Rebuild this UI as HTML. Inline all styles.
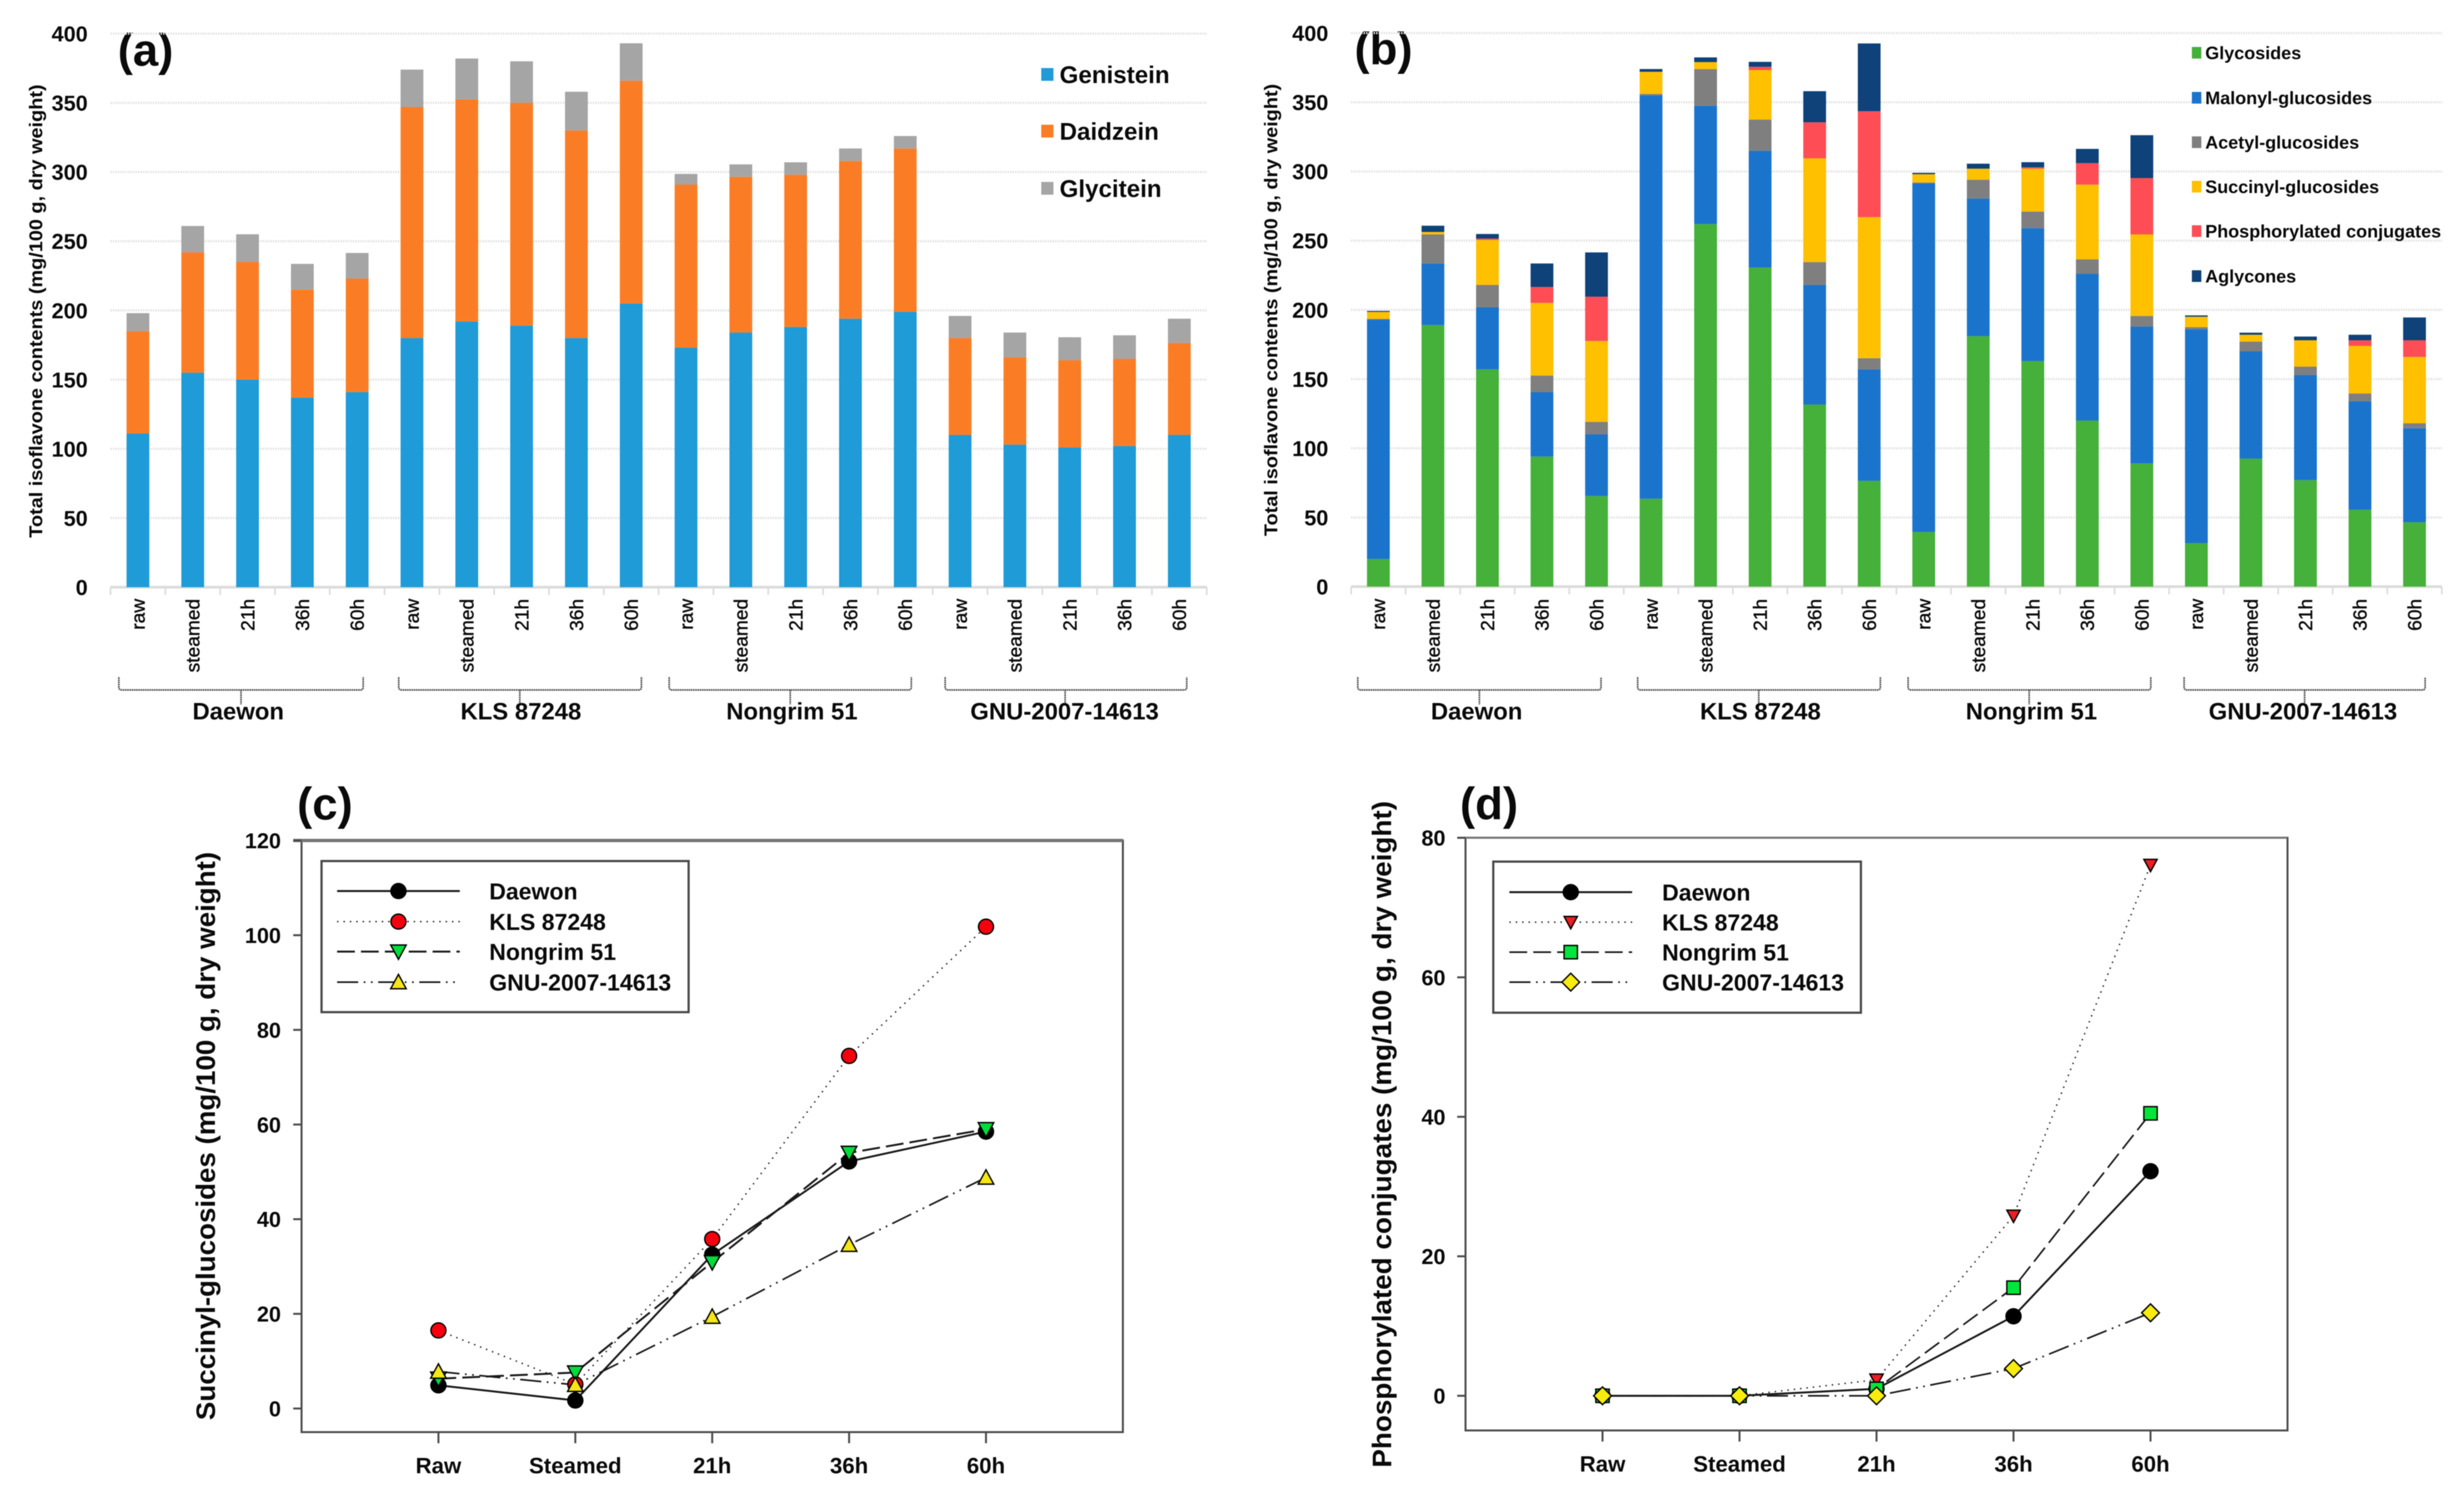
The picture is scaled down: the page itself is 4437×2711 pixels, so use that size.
<!DOCTYPE html>
<html lang="en">
<head>
<meta charset="utf-8">
<title>Isoflavone contents of soybean cultivars</title>
<style>
html,body{margin:0;padding:0;background:#fff;}
body{width:4437px;height:2711px;overflow:hidden;}
svg{display:block;font-family:"Liberation Sans",Arial,sans-serif;filter:blur(0.8px);}
text{fill:#0a0a0a;}
.b{font-weight:bold;}
</style>
</head>
<body>
<svg id="figure" xmlns="http://www.w3.org/2000/svg" width="4437" height="2711" viewBox="0 0 4437 2711">
  <rect x="0" y="0" width="4437" height="2711" fill="#fff"/>
  <g id="panel-a">
    <text class="b" x="212" y="118" font-size="82">(a)</text>
    <text class="b" font-size="33" text-anchor="middle" textLength="816" lengthAdjust="spacingAndGlyphs" transform="translate(76 560) rotate(-90)">Total isoflavone contents (mg/100 g, dry weight)</text>
  </g>
  <g id="panel-b">
    <text class="b" x="2439" y="116" font-size="82">(b)</text>
    <text class="b" font-size="33" text-anchor="middle" textLength="814" lengthAdjust="spacingAndGlyphs" transform="translate(2300 558) rotate(-90)">Total isoflavone contents (mg/100 g, dry weight)</text>
  </g>
  <g id="panel-c">
    <text class="b" x="535" y="1475" font-size="82">(c)</text>
    <text class="b" font-size="48" text-anchor="middle" textLength="1023" lengthAdjust="spacingAndGlyphs" transform="translate(387 2045) rotate(-90)">Succinyl-glucosides (mg/100 g, dry weight)</text>
  </g>
  <g id="panel-d">
    <text class="b" x="2629" y="1475" font-size="82">(d)</text>
    <text class="b" font-size="48" text-anchor="middle" textLength="1200" lengthAdjust="spacingAndGlyphs" transform="translate(2505 2042) rotate(-90)">Phosphorylated conjugates (mg/100 g, dry weight)</text>
  </g>
</svg>
<script>
// ---------- shared categories ----------
const barCategories = ['raw','steamed','21h','36h','60h','raw','steamed','21h','36h','60h','raw','steamed','21h','36h','60h','raw','steamed','21h','36h','60h'];
const cultivars = ['Daewon','KLS 87248','Nongrim 51','GNU-2007-14613'];
const barTicks = [0,50,100,150,200,250,300,350,400];
const lineCategories = ['Raw','Steamed','21h','36h','60h'];

// ---------- panel (a) values ----------
const aGenistein = [111,155,150,137,141,180,192,189,180,205,173,184,188,194,199,110,103,101,102,110];
const aDaidzein  = [74,87,85,78,82,167,160.5,161,150,161,118,112.5,110,114,118,70,63,63,63,66.5];
const aGlycitein = [13,19,20,18.6,18.5,27,29.5,30,28,27,7.6,9,9,9,9,16,18,16.6,17,17.5];

// ---------- panel (b) values ----------
const bGlycosides = [20,189,157,94,65.5,63.5,262,230.5,131.5,76.5,39.5,181,163,120,89,31.5,92.5,77,55.5,46.5];
const bMalonyl    = [173,44.5,45,46.5,44.5,291.5,85.5,84.5,86.5,80.5,252,99.5,96,106,99,154.5,77.5,76,78.5,68];
const bAcetyl     = [0.5,21,16,12,9,1,26.5,22.5,16.5,8,0.5,13.5,12,10.5,7.5,1.5,7,6,5.5,3.5];
const bSuccinyl   = [5,1.8,32.5,52.5,58.5,16,5,35.8,75,102,6,8,31,54,59,7.5,5,19,34.5,48];
const bPhospho    = [0,0,1,11.5,32,0,0,2.3,26,76.5,0,0,1,15.5,40.7,0,0,0,4,12];
const bAglycones  = [0.7,4.5,3.3,17,32,2,3.4,3.6,22.5,49,1,3.6,3.7,10.3,31,1,1.5,2.7,4,16.5];

// ---------- panel (c) values ----------
const cTicks = [0,20,40,60,80,100,120];
const cDaewon  = [4.9,1.7,32.5,52.2,58.5];
const cKLS     = [16.5,5.1,35.8,74.5,101.8];
const cNongrim = [6.3,7.6,30.9,54,59];
const cGNU     = [7.8,5,19.4,34.6,48.8];

// ---------- panel (d) values ----------
const dTicks = [0,20,40,60,80];
const dDaewon  = [0,0,1,11.4,32.2];
const dKLS     = [0,0,2.3,25.8,76.1];
const dNongrim = [0,0,1,15.5,40.5];
const dGNU     = [0,0,0,3.9,11.9];

const SVGNS = 'http://www.w3.org/2000/svg';

function make(parent, tag, attrs, content) {
  const node = document.createElementNS(SVGNS, tag);
  for (const key in attrs) node.setAttribute(key, attrs[key]);
  if (content !== undefined) node.textContent = content;
  parent.appendChild(node);
  return node;
}

function drawBarPanel(root, layout, seriesList) {
  const yOf = v => layout.y0 - v * (layout.y0 - layout.y400) / 400;
  const xOf = i => layout.left + layout.band * (i + 0.5);
  const right = layout.left + layout.band * barCategories.length;

  barTicks.forEach(t => {
    if (t > 0) {
      const grid = make(root, 'line', {x1: layout.left, x2: right, y1: yOf(t), y2: yOf(t), stroke: '#e2e2e2', 'stroke-width': 4, 'stroke-dasharray': '2.5 2'});
      
      
    }
    const tickLabel = make(root, 'text', {x: layout.tickRight, y: yOf(t) + 14, 'text-anchor': 'end', 'font-size': 39, 'font-weight': 'bold'}, String(t));
    
    
  });

  const axis = make(root, 'line', {x1: layout.left, x2: right, y1: layout.y0, y2: layout.y0, stroke: '#dcdcdc', 'stroke-width': 5});
  
  

  for (let i = 0; i <= barCategories.length; i++) {
    const tick = make(root, 'line', {x1: layout.left + layout.band * i, x2: layout.left + layout.band * i, y1: layout.y0, y2: layout.y0 + 14, stroke: '#dcdcdc', 'stroke-width': 3});
    
    
  }

  barCategories.forEach((cat, i) => {
    let cumulative = 0;
    seriesList.forEach(series => {
      const value = series.values[i];
      if (value > 0) {
        const top = yOf(cumulative + value);
        const bar = make(root, 'rect', {x: xOf(i) - layout.barWidth / 2, y: top, width: layout.barWidth, height: yOf(cumulative) - top, fill: series.color});
        
        
      }
      cumulative += value;
    });
    const x = xOf(i) + 12;
    const label = make(root, 'text', {x: x, y: layout.labelTop, 'text-anchor': 'end', 'font-size': 34.5, stroke: '#111', 'stroke-width': 0.7, transform: 'rotate(-90 ' + x + ' ' + layout.labelTop + ')'}, cat);
    
    
  });

  cultivars.forEach((name, g) => {
    const b = layout.brackets[g];
    const bracket = make(root, 'path', {d: 'M' + b[0] + ' 1219V1237Q' + b[0] + ' 1242 ' + (b[0] + 5) + ' 1242H' + (b[1] - 5) + 'Q' + b[1] + ' 1242 ' + b[1] + ' 1237V1219M' + b[2] + ' 1242V1268', fill: 'none', stroke: '#555', 'stroke-width': 3, 'stroke-dasharray': '3 1'});
    
    
    const label = make(root, 'text', {x: b[3], y: 1295, 'text-anchor': 'middle', 'font-size': 43, 'font-weight': 'bold'}, name);
    
    
  });

  seriesList.forEach((series, k) => {
    const cy = layout.legendY[k];
    const swatch = make(root, 'rect', {x: layout.legendX, y: cy - layout.swatchH / 2, width: layout.swatchW, height: layout.swatchH, fill: series.color});
    
    
    const text = make(root, 'text', {x: layout.legendX + layout.legendGap, y: cy + layout.legendFont * 0.36, 'font-size': layout.legendFont, 'font-weight': 'bold'}, series.label);
    
    
  });
}

const dashSolid = 'none';
const dashDotted = '2.5 9';
const dashDashed = '32 11';
const dashDotDot = '38 10 3 10 3 10';

function drawMarker(parent, shape, cx, cy, fill, size) {
  const style = {fill: fill, stroke: '#000', 'stroke-width': 2.5};
  if (shape === 'circle') return make(parent, 'circle', Object.assign({cx: cx, cy: cy, r: 13.5}, style));
  if (shape === 'square') return make(parent, 'rect', Object.assign({x: cx - 12, y: cy - 12, width: 24, height: 24}, style));
  let pts;
  if (shape === 'down') pts = [[cx - size, cy - size * 0.85], [cx + size, cy - size * 0.85], [cx, cy + size]];
  if (shape === 'up') pts = [[cx - size, cy + size * 0.85], [cx + size, cy + size * 0.85], [cx, cy - size]];
  if (shape === 'diamond') pts = [[cx - size, cy], [cx, cy - size], [cx + size, cy], [cx, cy + size]];
  return make(parent, 'polygon', Object.assign({points: pts.map(p => p.join(',')).join(' ')}, style));
}

function drawLinePanel(root, layout, ticks, seriesList) {
  const yOf = v => layout.y0 - v * layout.perUnit;
  const xOf = i => layout.left + layout.step * (i + 1);
  const frameRight = layout.left + layout.step * 6;

  const frame = make(root, 'rect', {x: layout.left, y: layout.top, width: frameRight - layout.left, height: layout.bottom - layout.top, fill: 'none', stroke: '#4a4a4a', 'stroke-width': 3.5});
  
  

  const topEdge = make(root, 'line', {x1: layout.left - 15, x2: frameRight, y1: layout.top, y2: layout.top, stroke: '#767676', 'stroke-width': layout.topWidth});
  
  

  ticks.forEach(t => {
    const tick = make(root, 'line', {x1: layout.left - 15, x2: layout.left, y1: yOf(t), y2: yOf(t), stroke: '#4a4a4a', 'stroke-width': 3.5});
    
    
    const label = make(root, 'text', {x: layout.tickRight, y: yOf(t) + 14, 'text-anchor': 'end', 'font-size': 39, 'font-weight': 'bold'}, String(t));
    
    
  });

  lineCategories.forEach((cat, i) => {
    const tick = make(root, 'line', {x1: xOf(i), x2: xOf(i), y1: layout.bottom, y2: layout.bottom + 20, stroke: '#4a4a4a', 'stroke-width': 3.5});
    
    
    const label = make(root, 'text', {x: xOf(i), y: layout.labelY, 'text-anchor': 'middle', 'font-size': 40, 'font-weight': 'bold'}, cat);
    
    
  });

  seriesList.forEach(series => {
    const points = series.values.map((v, i) => xOf(i) + ',' + yOf(v)).join(' ');
    const line = make(root, 'polyline', {points: points, fill: 'none', stroke: '#1a1a1a', 'stroke-width': series.width, 'stroke-dasharray': series.dash});
    
    
  });
  seriesList.forEach(series => {
    series.values.forEach((v, i) => {
      const point = drawMarker(root, series.shape, xOf(i), yOf(v), series.fill, series.size);
      
      
    });
  });

  const box = make(root, 'rect', {x: layout.legend.x, y: layout.legend.y, width: layout.legend.w, height: layout.legend.h, fill: '#fff', stroke: '#4a4a4a', 'stroke-width': 4});
  
  
  seriesList.forEach((series, k) => {
    const cy = layout.legend.rows[k];
    const sample = make(root, 'line', {x1: layout.legend.lineX1, x2: layout.legend.lineX2, y1: cy, y2: cy, stroke: '#1a1a1a', 'stroke-width': series.width, 'stroke-dasharray': series.dash});
    
    
    const mark = drawMarker(root, series.shape, (layout.legend.lineX1 + layout.legend.lineX2) / 2, cy, series.fill, series.size);
    
    
    const text = make(root, 'text', {x: layout.legend.textX, y: cy + 15, 'font-size': 41.5, 'font-weight': 'bold'}, series.label);
    
    
  });
}

drawBarPanel(document.getElementById('panel-a'), {
  left: 199, band: 98.7, barWidth: 41, y0: 1057, y400: 60.5, tickRight: 158, labelTop: 1078,
  brackets: [[214,654,434,429],[718,1155,936,938],[1205,1641,1423,1426],[1702,2137,1918,1917]],
  legendX: 1875, legendGap: 33, legendFont: 43.5, swatchW: 22, swatchH: 23, legendY: [134,236,339]
}, [
  {key:'genistein', label:'Genistein', color:'#1f9bd7', values:aGenistein},
  {key:'daidzein', label:'Daidzein', color:'#fa7d26', values:aDaidzein},
  {key:'glycitein', label:'Glycitein', color:'#a5a5a5', values:aGlycitein}
]);

drawBarPanel(document.getElementById('panel-b'), {
  left: 2433, band: 98.2, barWidth: 41, y0: 1056, y400: 59.5, tickRight: 2392, labelTop: 1078,
  brackets: [[2445,2883,2664,2659],[2949,3386,3167,3170],[3436,3873,3654,3658],[3933,4367,4150,4147]],
  legendX: 3947, legendGap: 24, legendFont: 32.4, swatchW: 17, swatchH: 21, legendY: [95,176,256,336,416,497]
}, [
  {key:'glycosides', label:'Glycosides', color:'#45b03a', values:bGlycosides},
  {key:'malonyl', label:'Malonyl-glucosides', color:'#1b74cc', values:bMalonyl},
  {key:'acetyl', label:'Acetyl-glucosides', color:'#7f7f7f', values:bAcetyl},
  {key:'succinyl', label:'Succinyl-glucosides', color:'#ffc000', values:bSuccinyl},
  {key:'phosphorylated', label:'Phosphorylated conjugates', color:'#ff4d55', values:bPhospho},
  {key:'aglycones', label:'Aglycones', color:'#0e4279', values:bAglycones}
]);

drawLinePanel(document.getElementById('panel-c'), {
  left: 543, step: 246.5, top: 1513, bottom: 2578, y0: 2535.5, perUnit: 8.52, tickRight: 506, labelY: 2652, topWidth: 6,
  legend: {x: 579, y: 1550, w: 661, h: 272, rows: [1604,1659,1713,1768], lineX1: 607, lineX2: 828, textX: 881}
}, cTicks, [
  {key:'daewon', label:'Daewon', values:cDaewon, dash:dashSolid, width:3.5, shape:'circle', fill:'#000', size:14},
  {key:'kls-87248', label:'KLS 87248', values:cKLS, dash:dashDotted, width:2.5, shape:'circle', fill:'#f5000f', size:14},
  {key:'nongrim-51', label:'Nongrim 51', values:cNongrim, dash:dashDashed, width:3.5, shape:'down', fill:'#00dc3c', size:14},
  {key:'gnu-2007-14613', label:'GNU-2007-14613', values:cGNU, dash:dashDotDot, width:3, shape:'up', fill:'#f5e616', size:14}
]);

drawLinePanel(document.getElementById('panel-d'), {
  left: 2639, step: 246.7, top: 1508, bottom: 2575, y0: 2512.6, perUnit: 12.555, tickRight: 2603, labelY: 2649, topWidth: 3.5,
  legend: {x: 2689, y: 1551, w: 662, h: 272, rows: [1606,1660,1714,1768], lineX1: 2718, lineX2: 2939, textX: 2993}
}, dTicks, [
  {key:'daewon', label:'Daewon', values:dDaewon, dash:dashSolid, width:3.5, shape:'circle', fill:'#000', size:14},
  {key:'kls-87248', label:'KLS 87248', values:dKLS, dash:dashDotted, width:2.5, shape:'down', fill:'#ee1c25', size:12},
  {key:'nongrim-51', label:'Nongrim 51', values:dNongrim, dash:dashDashed, width:3, shape:'square', fill:'#00e63c', size:12},
  {key:'gnu-2007-14613', label:'GNU-2007-14613', values:dGNU, dash:dashDotDot, width:3, shape:'diamond', fill:'#f8ec0e', size:16}
]);
</script>
</body>
</html>
